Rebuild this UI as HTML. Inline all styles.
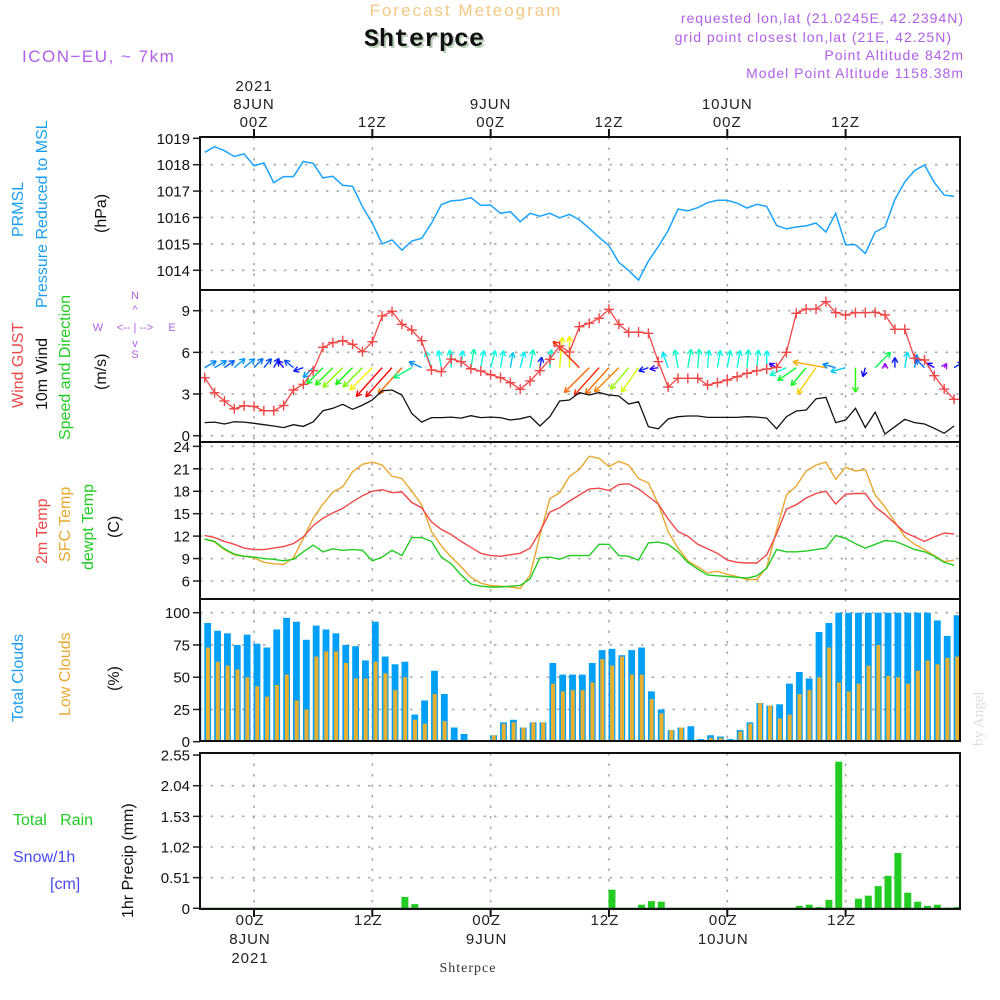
<!DOCTYPE html>
<html><head><meta charset="utf-8"><title>Meteogram Shterpce</title>
<style>
html,body{margin:0;padding:0;background:#fff;}
svg{display:block;font-family:"Liberation Sans",sans-serif;}
</style></head>
<body>
<svg id="chart" xmlns="http://www.w3.org/2000/svg" width="1000" height="1000" viewBox="0 0 1000 1000">
<rect x="0" y="0" width="1000" height="1000" fill="#fff"/>
<text x="466" y="16" text-anchor="middle" font-size="17" letter-spacing="2" fill="#f3c983">Forecast Meteogram</text>
<text x="426" y="48" text-anchor="middle" font-size="25" font-weight="bold" font-family="Liberation Mono, monospace" fill="#b9d0b9">Shterpce</text>
<text x="424" y="46" text-anchor="middle" font-size="25" font-weight="bold" font-family="Liberation Mono, monospace" fill="#111">Shterpce</text>
<text x="22" y="62" font-size="17" letter-spacing="1.5" fill="#b060e8">ICON−EU, ~ 7km</text>
<g font-size="14" letter-spacing="1" fill="#b060e8" text-anchor="end">
<text x="964" y="23">requested lon,lat (21.0245E, 42.2394N)</text>
<text x="952" y="42">grid point closest lon,lat (21E, 42.25N)</text>
<text x="964" y="60">Point Altitude 842m</text>
<text x="964" y="78">Model Point Altitude 1158.38m</text>
</g>
<g id="plot"></g>
<g font-size="16">
  <text transform="translate(23,237) rotate(-90)" fill="#1a9ff0">PRMSL</text>
  <text transform="translate(47,308) rotate(-90)" fill="#1a9ff0">Pressure Reduced to MSL</text>
  <text transform="translate(106,233) rotate(-90)" fill="#111">(hPa)</text>
  <text transform="translate(23,408) rotate(-90)" fill="#f04848">Wind GUST</text>
  <text transform="translate(47,410) rotate(-90)" fill="#111">10m Wind</text>
  <text transform="translate(70,440) rotate(-90)" fill="#22cc22">Speed and Direction</text>
  <text transform="translate(106,390) rotate(-90)" fill="#111">(m/s)</text>
  <text transform="translate(47,564) rotate(-90)" fill="#f04848">2m Temp</text>
  <text transform="translate(70,562) rotate(-90)" fill="#e8a830">SFC Temp</text>
  <text transform="translate(93,570) rotate(-90)" fill="#22cc22">dewpt Temp</text>
  <text transform="translate(119,538) rotate(-90)" fill="#111">(C)</text>
  <text transform="translate(23,722) rotate(-90)" fill="#1a9ff0">Total Clouds</text>
  <text transform="translate(70,716) rotate(-90)" fill="#e8a830">Low Clouds</text>
  <text transform="translate(119,691) rotate(-90)" fill="#111">(%)</text>
  <text transform="translate(133,918) rotate(-90)" fill="#111">1hr Precip (mm)</text>
  <text x="13" y="825" fill="#22cc22" xml:space="preserve">Total   Rain</text>
  <text x="13" y="862" fill="#4a4af0">Snow/1h</text>
  <text x="50" y="889" fill="#4a4af0">[cm]</text>
</g>
<g fill="#b060e8" font-size="11" text-anchor="middle">
  <text x="135" y="299">N</text>
  <text x="135" y="358">S</text>
  <text x="98" y="331">W</text>
  <text x="172" y="331">E</text>
  <text x="135" y="331">&lt;-- | --&gt;</text>
  <text x="135" y="313">^</text>
  <text x="135" y="347">v</text>
</g>
<text x="468" y="972" text-anchor="middle" font-size="14" font-family="Liberation Serif, serif" fill="#333" letter-spacing="1">Shterpce</text>
<text transform="translate(983,746) rotate(-90)" font-size="15" font-family="Liberation Serif, serif" fill="#ddd">by Angel</text>
</svg>
<script>
// ---- data (hourly from 8JUN -5h .. +71h) ----
const startHour = -5;
const timeTicks = [0, 12, 24, 36, 48, 60];
const topTickLabels = ["00Z", "12Z", "00Z", "12Z", "00Z", "12Z"];
const dayLabels = ["8JUN", "", "9JUN", "", "10JUN", ""];
const pressureTicks = [1014, 1015, 1016, 1017, 1018, 1019];
const windTicks = [0, 3, 6, 9];
const tempTicks = [6, 9, 12, 15, 18, 21, 24];
const cloudTicks = [0, 25, 50, 75, 100];
const precipTicks = [0, 0.51, 1.02, 1.53, 2.04, 2.55];
const precipTickLabels = ["0", "0.51", "1.02", "1.53", "2.04", "2.55"];

const pressure = [1018.47,1018.68,1018.53,1018.31,1018.41,1017.96,1018.07,1017.32,1017.55,1017.55,1018.12,1018.05,1017.50,1017.56,1017.22,1017.18,1016.41,1015.78,1015.00,1015.15,1014.76,1015.11,1015.21,1015.78,1016.49,1016.63,1016.66,1016.75,1016.46,1016.47,1016.16,1016.22,1015.84,1016.16,1016.05,1016.16,1015.99,1016.12,1015.91,
1015.59,1015.25,1014.93,1014.30,1013.99,1013.63,1014.35,1014.90,1015.50,1016.32,1016.25,1016.37,1016.56,1016.65,1016.65,1016.54,1016.36,1016.50,1016.42,1015.70,1015.57,1015.64,1015.68,1015.79,1015.45,1016.16,1014.97,1014.97,1014.64,1015.45,1015.64,1016.68,1017.35,1017.78,1017.99,1017.33,1016.85,1016.80];

const windGust = [4.18,3.10,2.50,1.94,2.16,2.11,1.80,1.80,2.18,3.29,3.70,4.68,6.36,6.70,6.84,6.58,6.05,6.77,8.62,8.95,8.02,7.61,6.84,4.73,4.61,5.52,5.33,4.82,4.66,4.39,4.18,3.82,3.34,3.94,4.68,5.50,6.46,6.02,7.85,
8.09,8.45,9.10,8.02,7.44,7.46,7.37,5.33,3.50,4.13,4.13,4.13,3.65,3.82,4.01,4.25,4.49,4.68,4.80,4.92,6.00,8.81,9.12,9.12,9.65,8.86,8.69,8.86,8.86,8.88,8.69,7.66,7.66,5.57,5.45,4.32,3.36,2.62];

const windSpeed = [0.94,0.98,0.84,1.0,0.98,0.89,0.79,0.70,0.58,0.79,0.67,1.0,1.8,1.97,2.26,1.9,2.2,2.57,3.24,3.29,2.93,1.6,0.98,1.3,1.3,1.34,1.27,1.44,1.3,1.34,1.3,1.13,1.22,1.39,0.7,1.37,2.5,2.57,3.1,
2.93,3.1,2.93,2.86,2.28,2.45,0.65,0.5,1.2,1.37,1.42,1.42,1.32,1.32,1.32,1.32,1.37,1.34,1.27,0.5,1.37,1.78,1.85,2.66,2.76,0.94,1.13,1.97,0.58,1.7,0.12,0.65,1.18,0.94,0.84,0.53,0.17,0.7];

// arrow pointing direction, screen degrees (0 = east, 90 = north)
const windDir = [30,30,35,40,40,45,50,60,130,140,200,225,225,225,225,225,225,225,228,228,228,210,155,110,
100,95,85,80,80,75,80,80,75,80,80,85,85,90,135,225,228,228,225,230,235,200,190,
110,100,80,85,85,80,80,80,85,85,90,150,205,215,230,235,170,165,195,270,255,45,90,90,80,80,135,150,60,30];

const temp2m = [12.1,11.8,11.3,10.9,10.4,10.2,10.2,10.4,10.6,11.0,11.9,13.4,14.4,15.1,15.7,16.6,17.4,18.0,18.2,17.8,17.9,16.5,15.8,13.9,12.9,12.2,11.3,10.5,9.7,9.4,9.3,9.5,9.7,10.4,12.6,15.2,15.8,16.7,17.5,
18.3,18.4,18.1,18.9,19.0,18.3,17.3,16.3,14.3,12.6,12.0,10.9,10.3,9.7,8.8,8.5,8.4,8.4,9.5,12.3,15.6,16.2,17.1,17.7,18.0,16.3,17.6,17.7,17.7,15.9,14.9,13.7,12.5,11.9,11.3,11.9,12.4,12.3];

const tempSfc = [11.6,11.2,10.2,9.5,9.3,9.1,8.5,8.3,8.2,9.1,11.7,14.4,16.3,17.9,18.6,20.6,21.6,21.9,21.5,20.0,19.7,18.0,16.2,12.6,10.7,9.2,7.9,6.5,5.7,5.4,5.3,5.2,5.0,6.8,12.1,17.0,17.8,20.0,20.9,
22.7,22.4,21.3,22.0,21.5,19.7,19.1,16.3,12.6,10.4,8.7,7.9,7.1,7.3,6.9,6.6,6.2,6.2,7.8,12.8,17.5,18.7,20.7,21.5,21.9,19.6,21.2,20.7,20.9,17.5,15.9,13.9,11.9,10.9,10.2,9.4,8.6,8.8];

const tempDew = [11.6,11.3,10.3,9.6,9.3,9.2,9.0,8.9,8.7,8.9,9.9,10.8,9.9,10.3,10.1,10.2,10.1,8.7,9.2,10.1,9.4,11.8,11.8,11.3,9.2,8.3,6.8,5.6,5.3,5.2,5.2,5.3,5.4,6.3,9.1,9.2,8.9,9.4,9.4,
9.4,10.9,10.9,9.4,9.3,8.8,11.1,11.2,10.9,9.9,8.5,7.6,6.8,6.7,6.6,6.5,6.4,6.7,7.7,10.2,9.9,9.9,10.0,10.2,10.4,12.1,11.7,11.0,10.4,10.9,11.4,11.3,10.8,10.2,9.9,9.3,8.5,8.1];

// clouds start one hour earlier (-6h, partially clipped)
const cloudStartHour = -6;
const totalClouds = [100,92,86,84,75,83,76,73,87,96,93,79,90,87,84,75,74,63,93,66,60,62,21,32,55,37,11,6,1,1,5,15,17,11,15,15,61,52,52,
52,61,71,72,67,71,73,39,25,9,11,12,2,5,4,2,9,15,30,28,29,45,54,49,85,92,100,100,100,100,100,100,100,100,100,100,94,82,98];
const lowClouds = [53,73,62,59,56,50,43,35,44,52,32,25,66,70,70,61,49,49,62,53,40,50,17,14,37,16,0,0,0,1,5,14,15,11,15,15,45,39,40,
40,46,64,59,66,52,52,33,22,9,11,0,0,3,3,1,8,14,30,28,18,21,37,40,50,73,46,39,45,59,75,51,50,45,55,63,60,65,66];

const precip = [0,0,0,0,0,0,0,0,0,0,0,0,0,0,0,0,0,0,0,0,0.19,0.07,0,0,0,0,0,0,0,0,0,0,0,0,0,0,0,0,0,0,0,0.31,0,0,0.06,0.12,0.11,
0,0,0,0,0,0,0,0,0,0,0,0,0,0.04,0.06,0.02,0.14,2.44,0,0.16,0.21,0.37,0.54,0.92,0.26,0.11,0.04,0.06,0.01,0.02];

// ---- scales ----
const X0 = 200, X1 = 960;
function xH(h) { return 254 + 9.86 * h; }
function yP(v) { return 270.3 - (v - 1014) * 26.4; }
function yW(v) { return 435.7 - v * 13.89; }
function yT(v) { return 581 - (v - 6) * 7.48; }
function yC(v) { return 741.7 - v * 1.29; }
function yR(v) { return 908.3 - v * 60.1; }
const panels = [
  {name:'pressure', top:137, bot:289, ticks:pressureTicks, labels:pressureTicks.map(String), y:yP},
  {name:'wind', top:290, bot:442, ticks:windTicks, labels:windTicks.map(String), y:yW},
  {name:'temp', top:442, bot:599, ticks:tempTicks, labels:tempTicks.map(String), y:yT},
  {name:'clouds', top:599, bot:741, ticks:cloudTicks, labels:cloudTicks.map(String), y:yC},
  {name:'precip', top:753, bot:909, ticks:precipTicks, labels:precipTickLabels, y:yR}
];

const NS = 'http://www.w3.org/2000/svg';
const plot = document.getElementById('plot');
function mk(tag, attrs, parent) {
  const e = document.createElementNS(NS, tag);
  for (const k in attrs) e.setAttribute(k, attrs[k]);
  (parent || plot).appendChild(e);
  return e;
}

const defs = mk('defs', {});
panels.forEach(p => {
  const cp = mk('clipPath', {id: 'clip-' + p.name}, defs);
  mk('rect', {x: X0, y: p.top, width: X1 - X0, height: p.bot - p.top}, cp);
});

panels.forEach(p => {
  const g = mk('g', {});
  
  
  p.ticks.forEach((t, i) => {
    const y = p.y(t);
    if (y > p.top + 3 && y < p.bot - 3) {
      mk('line', {x1: X0, x2: X1, y1: y, y2: y, stroke: '#aaa', 'stroke-width': 1.6, 'stroke-dasharray': '2.5,8'}, g);
    }
    mk('line', {x1: 193, x2: X0, y1: y, y2: y, stroke: '#222', 'stroke-width': 1.5}, g);
    const tx = mk('text', {x: 190, y: y + 5.5, 'text-anchor': 'end', 'font-size': 15, fill: '#111'}, g);
    tx.textContent = p.labels[i];
    
    
  });
  timeTicks.forEach(h => {
    mk('line', {x1: xH(h), x2: xH(h), y1: p.top, y2: p.bot, stroke: '#aaa', 'stroke-width': 1.6, 'stroke-dasharray': '2.5,8'}, g);
  });
});

function linePath(arr, yf, x0h) {
  return arr.map((v, i) => (i ? 'L' : 'M') + xH(x0h + i).toFixed(1) + ',' + yf(v).toFixed(1)).join(' ');
}
const pl = mk('path', {d: linePath(pressure, yP, startHour), fill: 'none', stroke: '#1aa3ff', 'stroke-width': 1.5, 'clip-path': 'url(#clip-pressure)'});



function speedColor(s) {
  let hue = 250 - (s - 0.5) / 2.7 * 250;
  hue = Math.max(0, Math.min(275, hue));
  return 'hsl(' + hue.toFixed(0) + ',95%,50%)';
}
const wg = mk('g', {'clip-path': 'url(#clip-wind)'});


const baseY = yW(4.9);
windDir.forEach((d, i) => {
  const s = windSpeed[i];
  const L = 11 * s + 3;
  const a = d * Math.PI / 180;
  const x1 = xH(startHour + i), y1 = baseY;
  const x2 = x1 + L * Math.cos(a), y2 = y1 - L * Math.sin(a);
  const c = speedColor(s);
  const ar = mk('g', {stroke: c, 'stroke-width': 1.4, fill: 'none'}, wg);
  
  
  mk('line', {x1: x1, y1: y1, x2: x2, y2: y2}, ar);
  [0.5, -0.5].forEach(da => {
    const b = a + Math.PI + da;
    mk('line', {x1: x2, y1: y2, x2: x2 + 6 * Math.cos(b), y2: y2 - 6 * Math.sin(b)}, ar);
  });
});
const gl = mk('path', {d: linePath(windGust, yW, startHour), fill: 'none', stroke: '#f04848', 'stroke-width': 1.3, 'clip-path': 'url(#clip-wind)'});


const gm = mk('g', {stroke: '#f04848', 'stroke-width': 1.4, 'clip-path': 'url(#clip-wind)'});


windGust.forEach((v, i) => {
  const x = xH(startHour + i), y = yW(v);
  const m = mk('path', {d: 'M' + (x - 5) + ',' + y + 'H' + (x + 5) + 'M' + x + ',' + (y - 5) + 'V' + (y + 5)}, gm);
  
  
});
const wl = mk('path', {d: linePath(windSpeed, yW, startHour), fill: 'none', stroke: '#111', 'stroke-width': 1.3, 'clip-path': 'url(#clip-wind)'});



[[tempSfc, '#e8a830', 'sfc-temp-line'], [temp2m, '#f04848', 'temp-2m-line'], [tempDew, '#22cc22', 'dewpoint-line']].forEach(s => {
  const e = mk('path', {d: linePath(s[0], yT, startHour), fill: 'none', stroke: s[1], 'stroke-width': 1.4, 'clip-path': 'url(#clip-temp)'});
  
  
});

const cg = mk('g', {'clip-path': 'url(#clip-clouds)'});


totalClouds.forEach((v, i) => {
  const cx = xH(cloudStartHour + i) + 3;
  const b = mk('rect', {x: cx - 3.4, y: yC(v), width: 6.8, height: yC(0) - yC(v), fill: '#009ff8'}, cg);
  
  
  const lv = lowClouds[i];
  const o = mk('rect', {x: cx - 1.8, y: yC(lv), width: 4, height: yC(0) - yC(lv), fill: '#e8b030'}, cg);
  
  
});

const rg = mk('g', {'clip-path': 'url(#clip-precip)'});


precip.forEach((v, i) => {
  if (v <= 0) return;
  const cx = xH(startHour + i) + 3;
  const b = mk('rect', {x: cx - 3.5, y: yR(v), width: 7, height: yR(0) - yR(v), fill: '#22cc22'}, rg);
  
  
});
mk('line', {x1: X0, x2: X1, y1: 908.5, y2: 908.5, stroke: '#0a4a0a', 'stroke-width': 1.5});

const fr = mk('g', {fill: 'none', stroke: '#111', 'stroke-width': 2});


mk('rect', {x: X0, y: 137, width: X1 - X0, height: 741 - 137}, fr);
[290, 442, 599].forEach(y => mk('line', {x1: X0, x2: X1, y1: y, y2: y}, fr));
mk('rect', {x: X0, y: 753, width: X1 - X0, height: 909 - 753}, fr);
timeTicks.forEach(h => {
  mk('line', {x1: xH(h), x2: xH(h), y1: 129, y2: 137}, fr);
  mk('line', {x1: xH(h), x2: xH(h), y1: 909, y2: 917}, fr);
});

const ta = mk('g', {'font-size': 15, fill: '#222', 'text-anchor': 'middle', 'letter-spacing': 1});


timeTicks.forEach((h, i) => {
  const x = xH(h);
  const t1 = mk('text', {x: x, y: 127}, ta); t1.textContent = topTickLabels[i];
  const b1 = mk('text', {x: x - 4, y: 925}, ta); b1.textContent = topTickLabels[i];
  if (dayLabels[i]) {
    const t2 = mk('text', {x: x, y: 109}, ta); t2.textContent = dayLabels[i];
    const b2 = mk('text', {x: x - 4, y: 944}, ta); b2.textContent = dayLabels[i];
  }
});
const y1 = mk('text', {x: xH(0), y: 91}, ta); y1.textContent = '2021';
const y2 = mk('text', {x: xH(0) - 4, y: 963}, ta); y2.textContent = '2021';
</script>
</body></html>
